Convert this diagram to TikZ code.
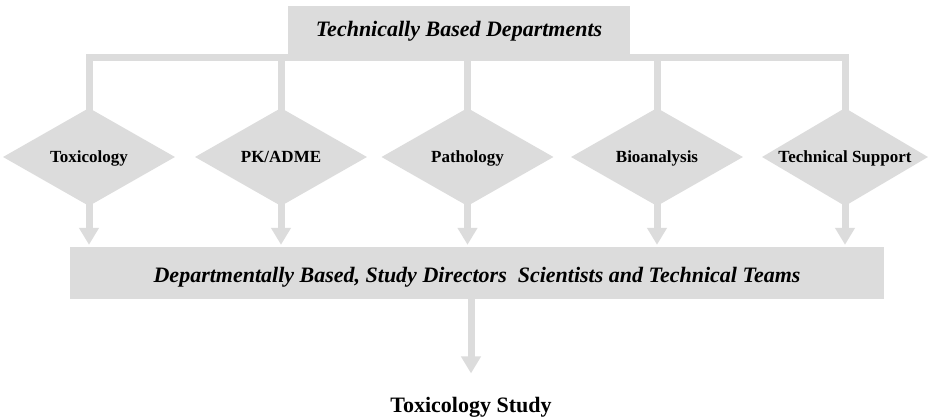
\documentclass[tikz,border=0pt]{standalone}
\usepackage{fontspec}
\setmainfont{Liberation Serif}
\usetikzlibrary{shapes.geometric,arrows.meta,calc}
\definecolor{boxgray}{RGB}{220,220,220}
\tikzset{
  dept/.style={shape=diamond, fill=boxgray, aspect=1.72, inner sep=0pt,
    minimum width=172pt, minimum height=98pt, text height=14pt, text depth=2pt,
    font=\fontsize{17}{20}\selectfont\bfseries},
  banner/.style={fill=boxgray, inner sep=0pt, font=\fontsize{22}{26}\selectfont\bfseries\itshape},
  bar/.style={draw=boxgray, line width=7pt},
  flow/.style={draw=boxgray, line width=7pt, -{Triangle[width=19pt,length=17pt]}, shorten >=2pt},
}
\begin{document}
\begin{tikzpicture}[x=1pt,y=-1pt]
\useasboundingbox[fill=white] (0,0) rectangle (931,419);
% top banner
\node[banner, minimum width=342pt, minimum height=55pt, text height=12pt, text depth=6pt] (top) at (459,33.5) {Technically Based Departments};
% diamonds
\node[dept] (tox) at (89,157) {Toxicology};
\node[dept] (pk) at (281,157) {PK/ADME};
\node[dept] (path) at (467.5,157) {Pathology};
\node[dept] (bio) at (657,157) {Bioanalysis};
\node[dept, minimum width=166pt] (tech) at (845,157) {Technical Support};
% bottom banner
\node[banner, minimum width=814pt, minimum height=52pt, text height=22pt, text depth=2pt] (bot) at (477,273) {Departmentally Based, Study Directors\ \ Scientists and Technical Teams};
\node[font=\fontsize{22}{26}\selectfont\bfseries] (study) at (471,407) {Toxicology Study};
% bar from top banner to diamonds
\coordinate (barline) at (0,57.5);
\draw[bar] ($(tox.north)+(0,6)$) -- (tox.north |- barline) -- (tech.north |- barline) -- ($(tech.north)+(0,6)$);
\foreach \d in {pk,path,bio}{
  \draw[bar] (\d.north |- barline) -- ($(\d.north)+(0,6)$);
}
% arrows down to bottom banner
\foreach \d in {tox,pk,path,bio,tech}{
  \draw[flow] ($(\d.south)+(0,-4)$) -- (\d.south |- bot.north);
}
% arrow to study
\draw[flow] (bot.south -| study.north) -- ($(study.north)+(0,-18)$);
\end{tikzpicture}
\end{document}
